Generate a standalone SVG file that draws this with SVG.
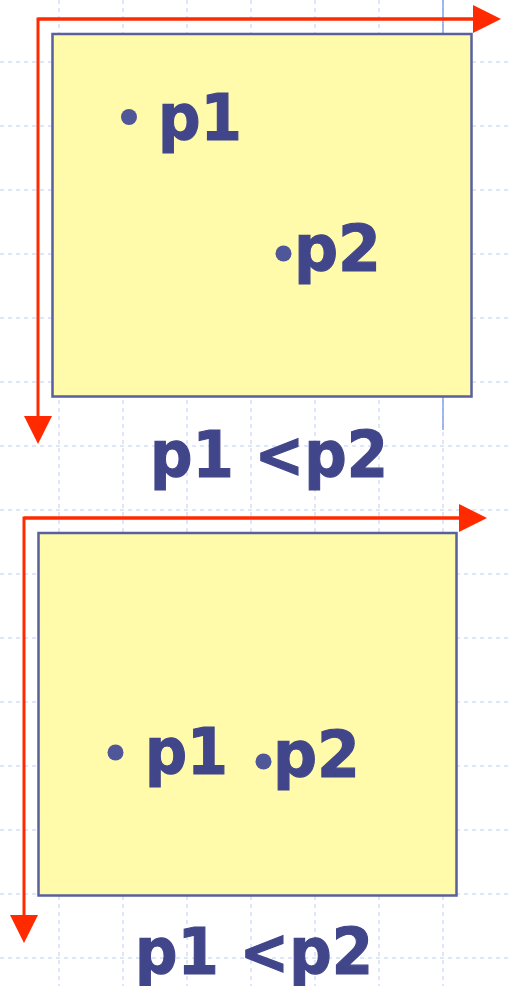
<svg xmlns="http://www.w3.org/2000/svg" width="510" height="986" viewBox="0 0 510 986">
<style>
.grid{stroke:#d4def8;stroke-width:1.5;stroke-dasharray:4 4;fill:none}
.box{fill:#fffbaa;stroke:#5a5f9e;stroke-width:2.5}
.axis{fill:none;stroke:#ff2a00;stroke-width:3}
.lbl{font-family:"DejaVu Sans","Verdana","Liberation Sans",sans-serif;font-weight:bold;font-size:64px;fill:#41468a;stroke:#41468a;stroke-width:1.2}
.dot{fill:#4f5799}
</style>
<defs>
<marker id="arr" markerUnits="userSpaceOnUse" markerWidth="28" markerHeight="28" viewBox="0 0 26 26" refX="0" refY="13" orient="auto">
<path d="M0,0 L26,13 L0,26 Z" fill="#ff2a00"/>
</marker>
</defs>
<rect width="510" height="986" fill="#ffffff"/>
<g id="grid">
<path class="grid" d="M59,0V986M123,0V986M187,0V986M251,0V986M315,0V986M379,0V986M443,0V986"/>
<path class="grid" d="M0,62H510M0,126H510M0,190H510M0,254H510M0,318H510M0,382H510M0,446H510M0,510H510M0,574H510M0,638H510M0,702H510M0,766H510M0,830H510M0,894H510M0,958H510"/>
<line x1="443" y1="0" x2="443" y2="430" stroke="#86a2f0" stroke-width="1.5"/>
</g>
<g id="connectors">
<path class="axis" d="M473,19H38V416" marker-end="url(#arr)"/>
<path class="axis" d="M38,19H473" marker-end="url(#arr)"/>
<path class="axis" d="M459,518H24V915" marker-end="url(#arr)"/>
<path class="axis" d="M24,518H459" marker-end="url(#arr)"/>
</g>
<g id="frame1">
<rect class="box" x="52.5" y="34" width="419" height="362.5"/>
<circle class="dot" cx="129" cy="117" r="8"/>
<text class="lbl" x="158" y="140" textLength="84" lengthAdjust="spacingAndGlyphs">p1</text>
<circle class="dot" cx="283.5" cy="253.5" r="8"/>
<text class="lbl" x="294" y="271" textLength="87" lengthAdjust="spacingAndGlyphs">p2</text>
</g>
<g id="label1">
<text class="lbl" x="150" y="477" textLength="238" lengthAdjust="spacingAndGlyphs">p1 &lt;p2</text>
</g>
<g id="frame2">
<rect class="box" x="38.5" y="533" width="418" height="362.5"/>
<circle class="dot" cx="115.5" cy="752.5" r="8"/>
<text class="lbl" x="145" y="774" textLength="83" lengthAdjust="spacingAndGlyphs">p1</text>
<circle class="dot" cx="263.5" cy="761.5" r="8"/>
<text class="lbl" x="273" y="777" textLength="87" lengthAdjust="spacingAndGlyphs">p2</text>
</g>
<g id="label2">
<text class="lbl" x="135" y="974" textLength="238" lengthAdjust="spacingAndGlyphs">p1 &lt;p2</text>
</g>
</svg>
